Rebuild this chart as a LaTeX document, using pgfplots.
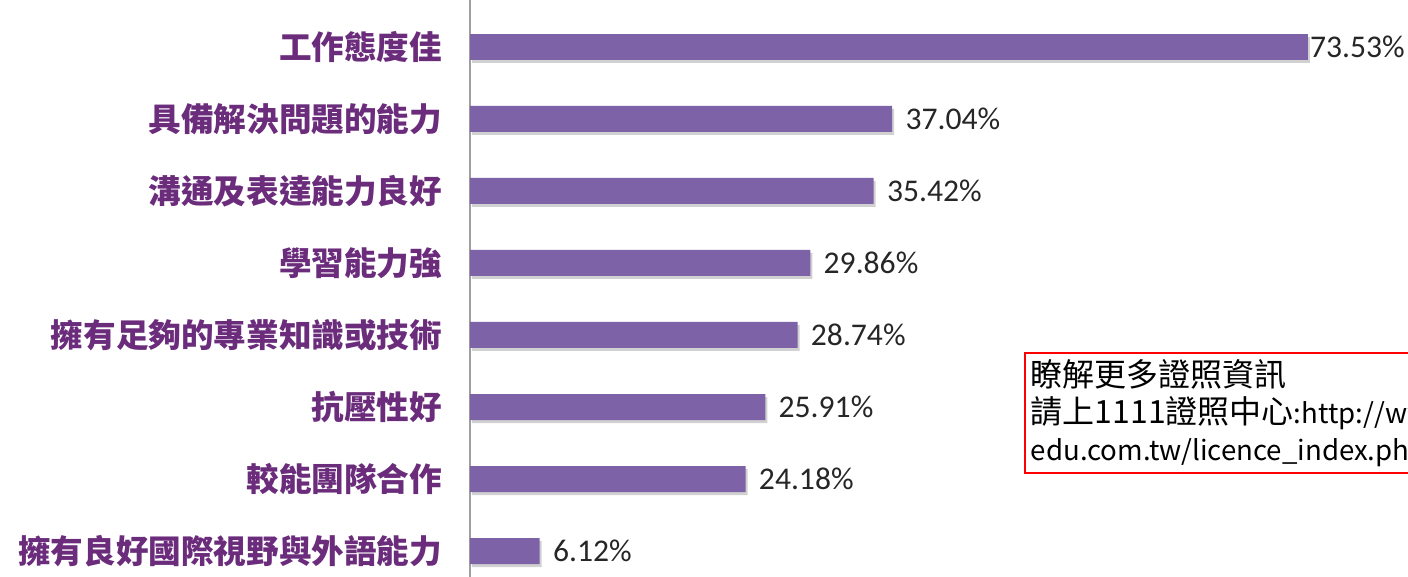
\documentclass[border=0pt]{standalone}
\usepackage{pgfplots}
\pgfplotsset{compat=1.18}
\usepackage{fontspec}
\setmainfont{Carlito}
\newfontfamily\cjk{Noto Sans CJK TC}
\usetikzlibrary{shadows}
\definecolor{barc}{HTML}{7E62A8}
\definecolor{labc}{HTML}{6B2C7C}
\begin{document}
\begin{tikzpicture}
\path[use as bounding box] (-235bp,0) rectangle (469bp,288.5bp);
\begin{axis}[
  xbar,
  width=469bp, height=288.5bp, scale only axis,
  xmin=0, xmax=82.3, ymin=-0.65, ymax=7.36, y dir=reverse,
  axis x line=none, axis y line*=left,
  y axis line style={draw=gray!75, line width=1bp, -},
  ytick={0,...,7},
  yticklabels={工作態度佳,具備解決問題的能力,溝通及表達能力良好,學習能力強,擁有足夠的專業知識或技術,抗壓性好,較能團隊合作,擁有良好國際視野與外語能力},
  ytick style={draw=none},
  yticklabel style={font=\cjk\bfseries\fontsize{16.3bp}{18bp}\selectfont, text=labc, inner sep=0pt, xshift=-9.5bp},
  bar width=13bp,
  clip=false,
  /pgf/number format/assume math mode=true,
  nodes near coords={\pgfmathprintnumber[fixed,fixed zerofill,precision=2,assume math mode=true]{\pgfplotspointmeta}\%},
  nodes near coords style={font=\fontsize{15.8bp}{18bp}\selectfont, text=black!85, anchor=west, inner sep=0pt},
]
\addplot[fill=barc, draw=none, bar shift=0pt, drop shadow={shadow xshift=1bp, shadow yshift=-1.5bp, fill=gray!60, opacity=0.6}, every node near coord/.append style={xshift=6.5bp}]
  coordinates {(37.04,1) (35.42,2) (29.86,3) (28.74,4) (25.91,5) (24.18,6) (6.12,7)};
\addplot[fill=barc, draw=none, bar shift=0pt, drop shadow={shadow xshift=1bp, shadow yshift=-1.5bp, fill=gray!60, opacity=0.6}, every node near coord/.append style={xshift=0.8bp}]
  coordinates {(73.53,0)};
\node[draw=red, line width=1bp, anchor=north west, inner xsep=3bp, inner ysep=3bp, align=left, font=\cjk\fontsize{16bp}{18.5bp}\selectfont, text=black]
  at (axis cs:48.6,4.24) {瞭解更多證照資訊\\請上1111證照中心{\fontsize{13.8bp}{18.5bp}\selectfont :http://www.1111.}\\{\fontsize{13.8bp}{18.5bp}\selectfont edu.com.tw/licence\_index.php}};
\end{axis}
\end{tikzpicture}
\end{document}
